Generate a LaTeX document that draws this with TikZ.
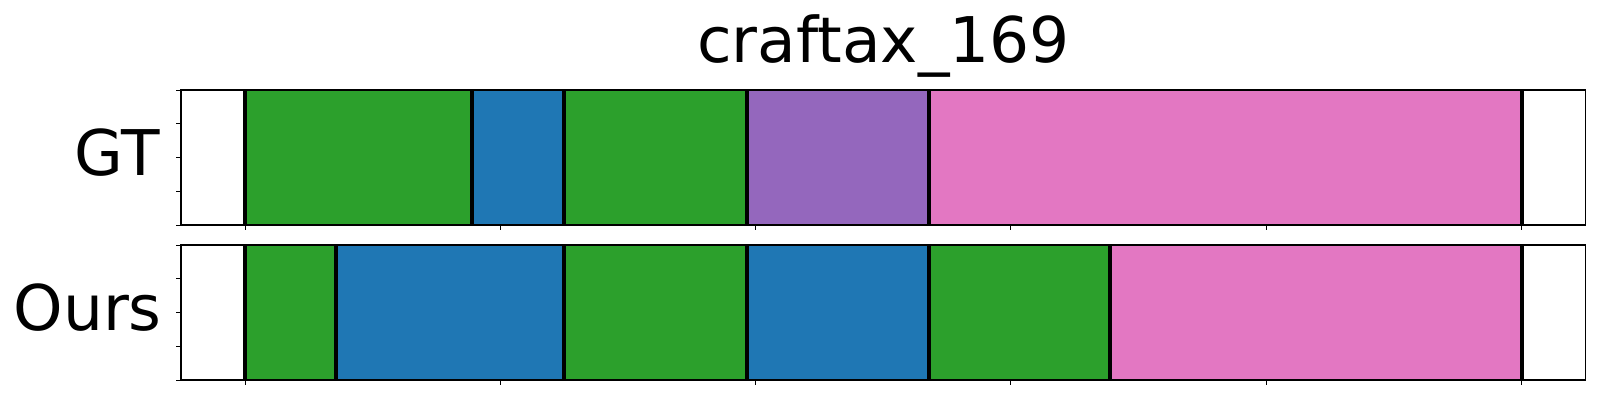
\documentclass[tikz,border=0pt]{standalone}
\usepackage{fontspec}
\setmainfont{DejaVu Sans}
\definecolor{tabgreen}{HTML}{2CA02C}
\definecolor{tabblue}{HTML}{1F77B4}
\definecolor{tabpurple}{HTML}{9467BD}
\definecolor{tabpink}{HTML}{E377C2}
\begin{document}
\begin{tikzpicture}[x=1pt,y=-1pt,
    bound/.style={line width=4pt,black},
    frame/.style={line width=1.3pt,black},
    tickmark/.style={line width=1pt,black},
    lbl/.style={font=\fontsize{63}{75}\selectfont,inner sep=0pt}]
\useasboundingbox (0,0) rectangle (1600,400);

		\node[lbl,anchor=base] (T) at (883.5,62.3) {craftax\_169};
		\node[lbl,anchor=base east] (G) at (160,175) {GT};
		\node[lbl,anchor=base east] (O) at (162,330.5) {Ours};

		% segments, in frames
		\begin{scope}[shift={(245,0)},xscale=2.553]
		\foreach \a/\b/\c in {0/89/tabgreen,89/125/tabblue,125/196.5/tabgreen,196.5/268/tabpurple,268/500/tabpink}
			\fill[\c] (\a,90) rectangle (\b,225);
		\foreach \a/\b/\c in {0/35.5/tabgreen,35.5/125/tabblue,125/196.5/tabgreen,196.5/268/tabblue,268/339/tabgreen,339/500/tabpink}
			\fill[\c] (\a,245) rectangle (\b,380);
		\foreach \a in {0,89,125,196.5,268,500}
			\draw[bound] (\a,90) -- (\a,225);
		\foreach \a in {0,35.5,125,196.5,268,339,500}
			\draw[bound] (\a,245) -- (\a,380);
		\foreach \a in {0,100,...,500} {
			\draw[tickmark] (\a,225) -- (\a,230);
			\draw[tickmark] (\a,380) -- (\a,385);
		}
		\end{scope}

		% frames
		\foreach \t in {90,245} {
			\draw[frame] (181,\t) rectangle (1585.5,\t+135);
			\foreach \k in {0,1,2,3,4}
				\draw[tickmark] (176,\t+33.75*\k) -- (181,\t+33.75*\k);
		}

\end{tikzpicture}
\end{document}
